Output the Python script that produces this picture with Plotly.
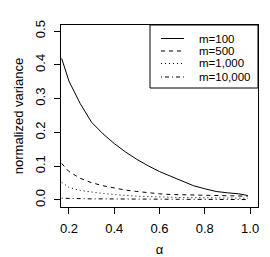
import plotly.graph_objects as go

alpha = [0.168, 0.2, 0.25, 0.3, 0.35, 0.4, 0.45, 0.5, 0.55, 0.6, 0.65, 0.7, 0.75, 0.8, 0.85, 0.9, 0.95, 0.99]
m100 = [0.419, 0.352, 0.285, 0.230, 0.196, 0.167, 0.142, 0.120, 0.101, 0.084, 0.070, 0.055, 0.042, 0.033, 0.025, 0.021, 0.018, 0.013]
m500 = [0.108, 0.084, 0.064, 0.051, 0.042, 0.035, 0.029, 0.025, 0.021, 0.018, 0.016, 0.015, 0.014, 0.013, 0.013, 0.012, 0.012, 0.011]
m1000 = [0.052, 0.037, 0.028, 0.023, 0.019, 0.016, 0.013, 0.011, 0.010, 0.008, 0.008, 0.007, 0.007, 0.006, 0.006, 0.006, 0.006, 0.005]
m10000 = [0.005, 0.004, 0.004, 0.003, 0.003, 0.003, 0.002, 0.002, 0.002, 0.002, 0.002, 0.001, 0.001, 0.001, 0.001, 0.001, 0.001, 0.001]

series_names = ["m=100", "m=500", "m=1,000", "m=10,000"]
series_values = [m100, m500, m1000, m10000]
series_dash = ["solid", "4px,4px", "1px,3px", "1px,3px,4px,3px"]

x_ticks = [0.2, 0.4, 0.6, 0.8, 1.0]
y_ticks = [0.0, 0.1, 0.2, 0.3, 0.4, 0.5]

FONT = "Liberation Sans, Arial, sans-serif"

fig = go.Figure()
for name, vals, dash in zip(series_names, series_values, series_dash):
    fig.add_trace(go.Scatter(x=alpha, y=vals, mode="lines", name=name, showlegend=False,
                             line=dict(color="black", width=1, dash=dash)))

axis_common = dict(showline=True, mirror=True, linecolor="black", linewidth=1,
                   ticks="outside", ticklen=6, tickcolor="black", tickwidth=1,
                   showgrid=False, zeroline=False, automargin=False,
                   tickfont=dict(family=FONT, size=13, color="black"))

# Manual legend (box, line samples, labels) in paper coordinates
shapes = [dict(type="rect", xref="paper", yref="paper", x0=0.4518, x1=1.0, y0=0.6538, y1=1.0,
               line=dict(color="black", width=1), fillcolor="white", layer="above")]
annotations = []
leg_y = [0.9258, 0.8571, 0.7885, 0.7143]
for ly, name, dash in zip(leg_y, series_names, series_dash):
    shapes.append(dict(type="line", xref="paper", yref="paper", x0=0.5076, x1=0.6244, y0=ly, y1=ly,
                       line=dict(color="black", width=1, dash=dash), layer="above"))
    annotations.append(dict(xref="paper", yref="paper", x=0.6904, y=ly, text=name, showarrow=False,
                            xanchor="left", yanchor="middle", font=dict(family=FONT, size=11.5, color="black")))

fig.update_layout(
    width=270, height=257,
    margin=dict(l=61, r=12, t=25, b=50, autoexpand=False),
    plot_bgcolor="white", paper_bgcolor="white",
    font=dict(family=FONT, color="black"),
    xaxis=dict(range=[0.165, 1.035], tickvals=x_ticks, ticktext=[f"{v:.1f}" for v in x_ticks],
               ticklabelstandoff=3,
               title=dict(text="α", font=dict(size=13), standoff=17), **axis_common),
    yaxis=dict(range=[-0.021, 0.518], tickvals=y_ticks, ticktext=[f"{v:.1f}" for v in y_ticks],
               tickangle=-90, ticklabelstandoff=4,
               title=dict(text="normalized variance", font=dict(size=13), standoff=6), **axis_common),
    shapes=shapes,
    annotations=annotations,
    showlegend=False,
)

fig.write_html("out.html", config={"displayModeBar": False},
               post_script="document.body.style.margin='0';document.body.style.overflow='hidden';")
